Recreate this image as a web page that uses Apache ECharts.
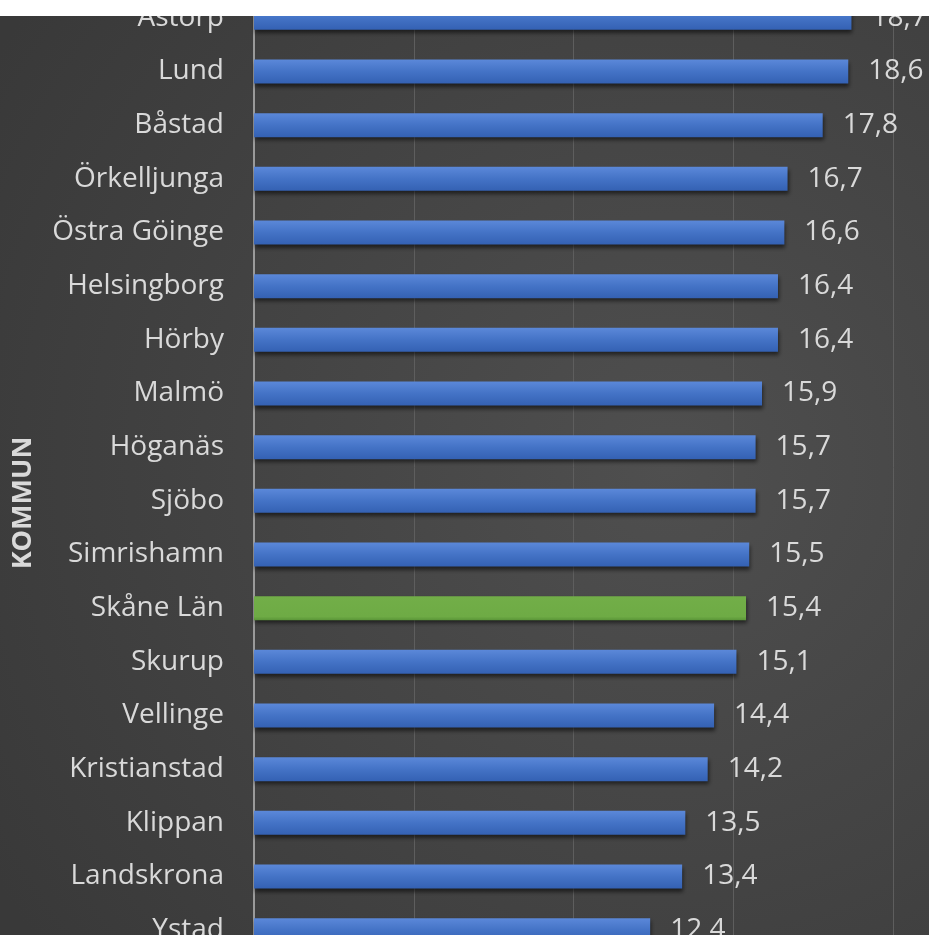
<!DOCTYPE html>
<html>
<head>
<meta charset="utf-8">
<script src="https://cdn.jsdelivr.net/npm/echarts@6/dist/echarts.min.js"></script>
<style>
html,body{margin:0;padding:0;background:#fff;}
#c{width:929px;height:935px;}
</style>
</head>
<body>
<div id="c"></div>
<script>
const categories = ["Åstorp","Lund","Båstad","Örkelljunga","Östra Göinge","Helsingborg","Hörby","Malmö","Höganäs","Sjöbo","Simrishamn","Skåne Län","Skurup","Vellinge","Kristianstad","Klippan","Landskrona","Ystad"];
const values = [18.7,18.6,17.8,16.7,16.6,16.4,16.4,15.9,15.7,15.7,15.5,15.4,15.1,14.4,14.2,13.5,13.4,12.4];
const highlight = "Skåne Län";
const axisTitle = "KOMMUN";

const blue = {type:'linear',x:0,y:0,x2:0,y2:1,colorStops:[{offset:0,color:'#5b88d9'},{offset:0.5,color:'#4473c6'},{offset:1,color:'#3461b3'}]};
const green = {type:'linear',x:0,y:0,x2:0,y2:1,colorStops:[{offset:0,color:'#72ae48'},{offset:0.85,color:'#6eab45'},{offset:1,color:'#5a9538'}]};

const chart = echarts.init(document.getElementById('c'));
chart.setOption({
  backgroundColor: {type:'radial',x:0.72,y:0.5,r:0.85,colorStops:[{offset:0,color:'#4f4f4f'},{offset:1,color:'#393939'}]},
  animation:false,
  grid:{left:254, top:-9, width:639, height:966, containLabel:false, outerBoundsMode:'none'},
  xAxis:{type:'value', min:0, max:20, interval:5,
    axisLabel:{show:false}, axisLine:{show:false}, axisTick:{show:false},
    splitLine:{show:true, lineStyle:{color:'#5e5e5e', width:1}}},
  yAxis:{type:'category', data:categories, inverse:true,
    axisLine:{show:true, lineStyle:{color:'#9a9a9a', width:2}},
    axisTick:{show:false},
    axisLabel:{color:'#d9d9d9', fontFamily:'Open Sans', fontSize:28, margin:30}},
  series:[{type:'bar', barWidth:24,
    data: values.map((v,i)=>({value:v, itemStyle:{color: categories[i]===highlight ? green : blue}})),
    itemStyle:{shadowBlur:4, shadowColor:'rgba(0,0,0,0.55)', shadowOffsetY:3, shadowOffsetX:1},
    label:{show:true, position:'right', distance:20, color:'#d9d9d9', fontFamily:'Open Sans', fontSize:28,
      formatter: p => p.value.toFixed(1).replace('.', ',')}
  }],
  graphic:[
    {type:'text', x:23, y:503, rotation:Math.PI/2, z:50,
      style:{text:axisTitle, fill:'#d9d9d9', font:'bold 27px "Open Sans"', textAlign:'center', textVerticalAlign:'middle'}},
    {type:'rect', shape:{x:0,y:0,width:929,height:16}, style:{fill:'#ffffff'}, z:100}
  ]
});
</script>
</body>
</html>
